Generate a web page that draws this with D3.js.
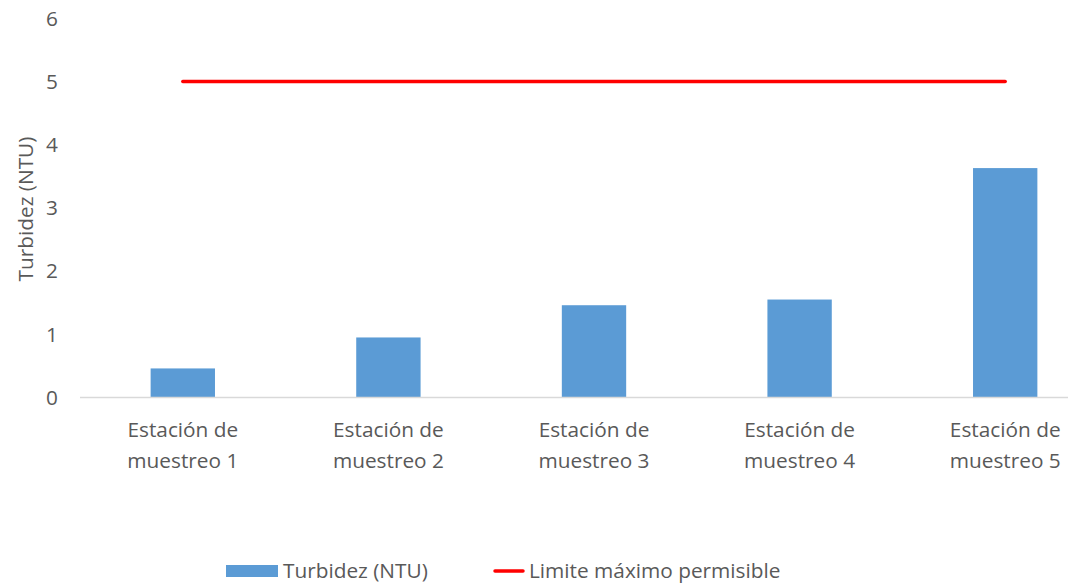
<!DOCTYPE html>
<html>
<head>
<meta charset="utf-8">
<title>Turbidez</title>
<script src="https://d3js.org/d3.v7.min.js"></script>
<style>
body { margin: 0; background: #fff; }
svg { display: block; }
text { font-family: "Open Sans", sans-serif; fill: #595959; }
</style>
</head>
<body>
<div id="chart"></div>
<script>
// datos
var estaciones = ["Estación de muestreo 1", "Estación de muestreo 2", "Estación de muestreo 3", "Estación de muestreo 4", "Estación de muestreo 5"];
var turbidez = [0.46, 0.95, 1.46, 1.55, 3.63];
var limite = [5, 5, 5, 5, 5];
var yTicks = [0, 1, 2, 3, 4, 5, 6];
var leyenda = ["Turbidez (NTU)", "Limite máximo permisible"];

var w = 1068, h = 586,
    fs = "20.8px";

var svg = d3.select("#chart").append("svg")
    .attr("width", w)
    .attr("height", h);

// plot area runs past the right edge, as in the original crop
var x = d3.scaleBand()
    .domain(estaciones)
    .range([80, 1108])
    .paddingInner(0.687)
    .paddingOuter(0.3435);

var y = d3.scaleLinear()
    .domain([0, 6])
    .range([397.5, 18.3]);

// y tick labels
svg.append("g")
    .selectAll("text")
    .data(yTicks)
    .enter().append("text")
    .attr("x", 58)
    .attr("y", function(d){ return y(d); })
    .attr("dy", "0.35em")
    .attr("text-anchor", "end")
    .style("font-size", fs)
    .text(function(d){ return d; });

// y title
svg.append("text")
    .attr("transform", "translate(33," + 209 + ") rotate(-90)")
    .attr("text-anchor", "middle")
    .style("font-size", fs)
    .text("Turbidez (NTU)");

// bars
svg.append("g")
    .selectAll("rect")
    .data(turbidez)
    .enter().append("rect")
    .attr("x", function(d, i){ return x(estaciones[i]); })
    .attr("width", x.bandwidth())
    .attr("y", function(d){ return y(d); })
    .attr("height", function(d){ return y(0) - y(d); })
    .attr("fill", "#5B9BD5");

// x axis line
svg.append("line")
    .attr("x1", 80).attr("x2", w)
    .attr("y1", y(0)).attr("y2", y(0))
    .attr("stroke", "#D9D9D9")
    .attr("stroke-width", 1.5);

// category labels, two lines
var cat = svg.append("g")
    .selectAll("text")
    .data(estaciones)
    .enter().append("text")
    .attr("text-anchor", "middle")
    .style("font-size", fs)
    .attr("transform", function(d){ return "translate(" + (x(d) + x.bandwidth()/2) + ",0)"; });
cat.append("tspan").attr("x", 0).attr("y", 437).text(function(d){ return d.split(" ").slice(0, 2).join(" "); });
cat.append("tspan").attr("x", 0).attr("y", 468).text(function(d){ return d.split(" ").slice(2).join(" "); });

// limit line
var line = d3.line()
    .x(function(d, i){ return x(estaciones[i]) + x.bandwidth()/2; })
    .y(function(d){ return y(d); });
svg.append("path")
    .datum(limite)
    .attr("d", line)
    .attr("fill", "none")
    .attr("stroke", "#FF0000")
    .attr("stroke-width", 3.5)
    .attr("stroke-linecap", "round");

// legend
var lg = svg.append("g");
lg.append("rect")
    .attr("x", 226).attr("y", 565)
    .attr("width", 52).attr("height", 12)
    .attr("fill", "#5B9BD5");
lg.append("text")
    .attr("x", 283).attr("y", 571).attr("dy", "0.35em")
    .style("font-size", fs)
    .text(leyenda[0]);
lg.append("line")
    .attr("x1", 495).attr("x2", 523)
    .attr("y1", 571).attr("y2", 571)
    .attr("stroke", "#FF0000")
    .attr("stroke-width", 3.5)
    .attr("stroke-linecap", "round");
lg.append("text")
    .attr("x", 529).attr("y", 571).attr("dy", "0.35em")
    .style("font-size", fs)
    .text(leyenda[1]);
</script>
</body>
</html>
